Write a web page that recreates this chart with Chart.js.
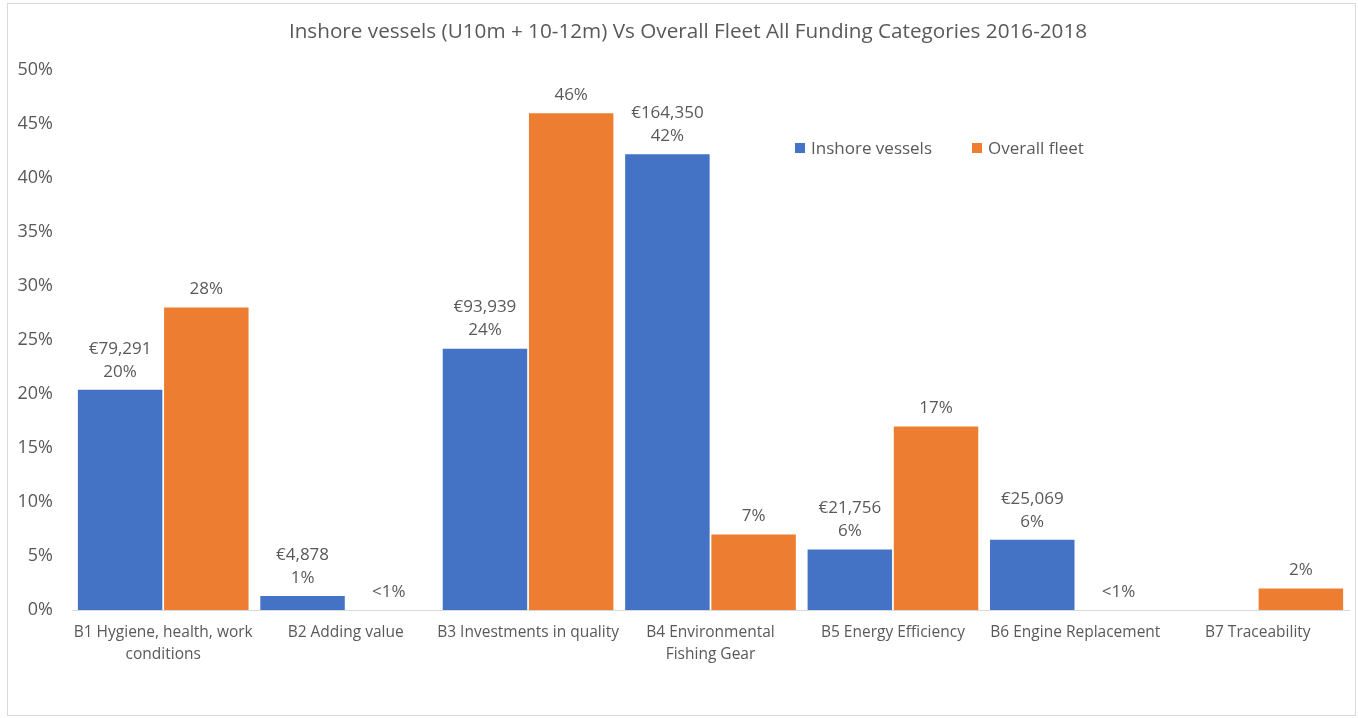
<!DOCTYPE html>
<html>
<head>
<meta charset="utf-8">
<script src="https://cdn.jsdelivr.net/npm/chart.js@4/dist/chart.umd.min.js"></script>
<style>
  html, body { margin: 0; padding: 0; background: #fff; }
  #wrap { position: relative; width: 1358px; height: 718px; }
  #frame { position: absolute; left: 7px; top: 3px; right: 2px; bottom: 2px; border: 1px solid #d9d9d9; pointer-events: none; }
  #legend { position: absolute; left: 795px; top: 136px; font: 17px "Open Sans", sans-serif; color: #595959; display: flex; gap: 40px; }
  #legend span.sw { display: inline-block; width: 10px; height: 10px; margin-right: 6px; vertical-align: 1px; }
</style>
</head>
<body>
<div id="wrap">
  <canvas id="chart" width="1358" height="718"></canvas>
  <div id="frame"></div>
  <div id="legend">
    <div><span class="sw" style="background:#4472C4"></span>Inshore vessels</div>
    <div><span class="sw" style="background:#ED7D31"></span>Overall fleet</div>
  </div>
</div>
<script>
const chartTitle = 'Inshore vessels (U10m + 10-12m) Vs Overall Fleet All Funding Categories 2016-2018';
const categories = [
  ['B1 Hygiene, health, work', 'conditions'],
  'B2 Adding value',
  'B3 Investments in quality',
  ['B4 Environmental', 'Fishing Gear'],
  'B5 Energy Efficiency',
  'B6 Engine Replacement',
  'B7 Traceability'
];
const inshoreValues = [20.4, 1.3, 24.2, 42.2, 5.6, 6.5, 0];
const overallValues = [28.0, 0, 46.0, 7.0, 17.0, 0, 2.0];
const inshoreAmounts = ['€79,291', '€4,878', '€93,939', '€164,350', '€21,756', '€25,069', ''];
const inshoreLabels = ['20%', '1%', '24%', '42%', '6%', '6%', ''];
const overallLabels = ['28%', '<1%', '46%', '7%', '17%', '<1%', '2%'];

const FONT = '"Open Sans", sans-serif';
const GREY = '#595959';

// title centred on the frame rather than on the chart box
const frameTitle = {
  id: 'frameTitle',
  afterDraw(chart) {
    const ctx = chart.ctx;
    ctx.save();
    ctx.font = '20.7px ' + FONT;
    ctx.fillStyle = GREY;
    ctx.textAlign = 'center';
    ctx.textBaseline = 'middle';
    ctx.fillText(chartTitle, 688, 32);
    ctx.restore();
  }
};

// draws the value labels above each bar
const barLabels = {
  id: 'barLabels',
  afterDatasetsDraw(chart) {
    const ctx = chart.ctx;
    ctx.save();
    ctx.font = '17px ' + FONT;
    ctx.fillStyle = GREY;
    ctx.textAlign = 'center';
    ctx.textBaseline = 'middle';
    chart.getDatasetMeta(0).data.forEach((bar, i) => {
      if (!inshoreLabels[i]) return;
      ctx.fillText(inshoreLabels[i], bar.x, bar.y - 18);
      ctx.fillText(inshoreAmounts[i], bar.x, bar.y - 41);
    });
    chart.getDatasetMeta(1).data.forEach((bar, i) => {
      if (!overallLabels[i]) return;
      ctx.fillText(overallLabels[i], bar.x, bar.y - 18);
    });
    ctx.restore();
  }
};

new Chart(document.getElementById('chart'), {
  type: 'bar',
  data: {
    labels: categories,
    datasets: [
      { label: 'Inshore vessels', data: inshoreValues, backgroundColor: '#4472C4' },
      { label: 'Overall fleet', data: overallValues, backgroundColor: '#ED7D31' }
    ]
  },
  options: {
    responsive: false,
    animation: false,
    categoryPercentage: 0.945,
    barPercentage: 0.98,
    layout: { padding: { left: 0, right: 9, top: 70, bottom: 0 } },
    plugins: {
      legend: { display: false },
      tooltip: { enabled: false },
      title: { display: false }
    },
    scales: {
      x: {
        grid: { display: false, drawTicks: false },
        border: { display: true, color: '#d9d9d9', width: 1 },
        ticks: { color: GREY, font: { family: FONT, size: 15.5, lineHeight: 1.42 }, padding: 12, maxRotation: 0, autoSkip: false },
        afterFit(scale) { scale.height = 108; }
      },
      y: {
        min: 0,
        max: 50,
        grid: { display: false, drawTicks: false },
        border: { display: false },
        ticks: {
          stepSize: 5,
          color: GREY,
          font: { family: FONT, size: 18 },
          padding: 19,
          callback: v => v + '%'
        },
        afterFit(scale) { scale.width = 72; }
      }
    }
  },
  plugins: [barLabels, frameTitle]
});
</script>
</body>
</html>
